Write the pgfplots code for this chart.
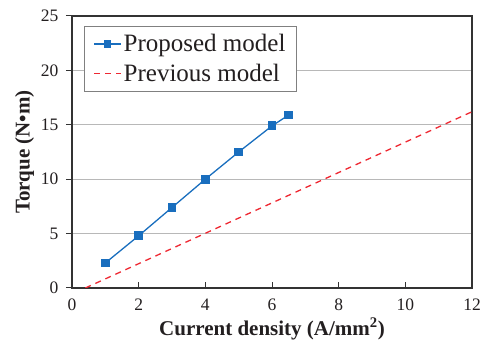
\documentclass[border=0pt]{standalone}
\usepackage{fontspec}
\setmainfont{Liberation Serif}
\usepackage{pgfplots}
\pgfplotsset{compat=1.18}
\definecolor{pblue}{RGB}{25,110,190}
\definecolor{pred}{RGB}{238,40,50}
\definecolor{txt}{RGB}{35,31,32}
\begin{document}
\begin{tikzpicture}
\begin{axis}[name=ax, scale only axis, width=400pt, height=272pt,
  xmin=0, xmax=12, ymin=0, ymax=25,
  xtick={0,2,...,12}, ytick={0,5,...,25},
  xtick pos=bottom, ytick pos=left,
  tick align=inside, major tick length=6pt,
  ytick style={xshift=-6pt},
  ymajorgrids, major grid style={color=black!28, line width=1pt},
  axis line style={line width=1.3pt, color=black!80},
  tick style={line width=1pt, color=black!80},
  ticklabel style={font=\fontsize{17.5}{20}\selectfont, text=txt},
  xticklabel style={yshift=-7pt},
  yticklabel style={xshift=-10pt},
  /pgf/number format/assume math mode=true,
  xlabel={Current density (A/mm\textsuperscript{2})},
  ylabel={Torque (N\textbullet m)},
  xlabel style={yshift=-1pt},
  ylabel style={yshift=0pt},
  label style={font=\fontsize{21}{24}\selectfont\bfseries, text=txt},
  legend style={at={(0.03,0.963)}, anchor=north west, draw=black!50, line width=0.8pt,
    font=\fontsize{25}{28}\selectfont, text=txt, inner xsep=9pt, inner ysep=6pt, row sep=7pt},
  legend cell align=left,
  legend image code/.code={\draw[mark repeat=2,mark phase=2, mark size=3pt] plot coordinates {(0pt,0pt)(13.5pt,0pt)(27pt,0pt)};},
]
\addplot[pblue, line width=1.3pt, mark=square*, mark size=3.8pt, mark options={solid}]
  coordinates {(1,2.3)(2,4.8)(3,7.4)(4,10.0)(5,12.5)(6,14.9)(6.5,15.9)};
\addlegendentry{Proposed model}
\addplot[pred, line width=1.3pt, dash pattern=on 6pt off 5pt]
  coordinates {(0.4,0)(12,16.2)};
\addlegendentry{Previous model}
\end{axis}
\path (ax.south west) ++(-72pt,-62pt);
\path (ax.north east) ++(15pt,16pt);
\end{tikzpicture}
\end{document}
